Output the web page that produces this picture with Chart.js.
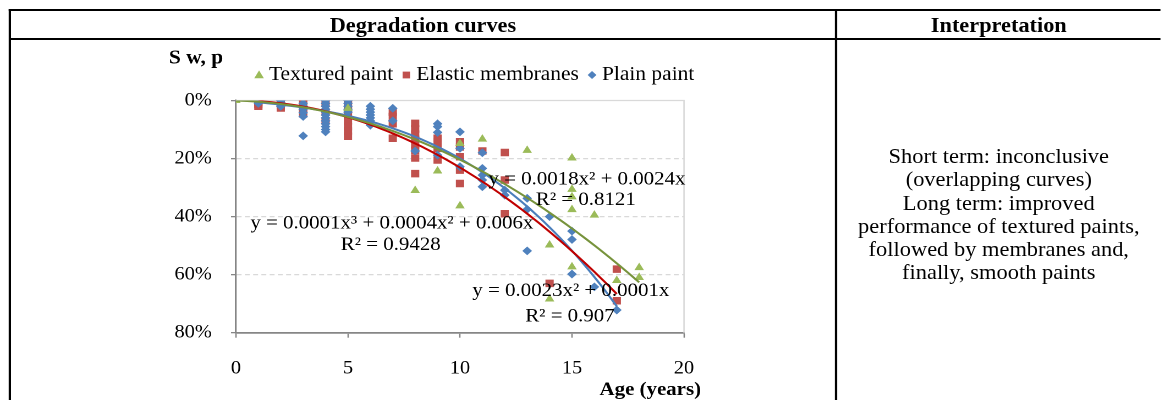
<!DOCTYPE html>
<html>
<head>
<meta charset="utf-8">
<title>Degradation curves</title>
<script src="https://cdn.jsdelivr.net/npm/chart.js@4.4.1/dist/chart.umd.min.js"></script>
<style>
  html, body { margin: 0; padding: 0; background: #fff; }
  body { width: 1161px; height: 400px; overflow: hidden; font-family: "Liberation Serif", "Times New Roman", serif; color: #000; }
  /* the source picture is stretched ~10% horizontally, so the whole page is too */
  #page { position: absolute; left: 0; top: 0; width: 1055.5px; height: 400px; transform: scaleX(1.1); transform-origin: 0 0; }
  #chart { position: absolute; left: 0; top: 0; }
  .rule { position: absolute; background: #000; }
  .head { position: absolute; top: 11.5px; height: 27px; line-height: 27px; font-weight: bold; font-size: 20.3px; text-align: center; white-space: nowrap; }
  #interp { position: absolute; left: 761px; width: 294px; top: 145px; text-align: center; font-size: 20.4px; line-height: 23.3px; white-space: nowrap; }
</style>
</head>
<body>
<div id="page">
  <canvas id="chart" width="759" height="400"></canvas>
  <div class="rule" style="left:8.2px; top:9px; width:1047.3px; height:2px"></div>
  <div class="rule" style="left:8.2px; top:37.5px; width:1047.3px; height:2px"></div>
  <div class="rule" style="left:8.2px; top:9px; width:1.8px; height:391px"></div>
  <div class="rule" style="left:759px; top:9px; width:1.8px; height:391px"></div>
  <div class="head" style="left:10px; width:749px">Degradation curves</div>
  <div class="head" style="left:761px; width:294px">Interpretation</div>
  <div id="interp">Short term: inconclusive<br>(overlapping curves)<br>Long term: improved<br>performance of textured paints,<br>followed by membranes and,<br>finally, smooth paints</div>
</div>
<script>
// series labels
const seriesNames = ["Textured paint", "Elastic membranes", "Plain paint"];

// Textured paint (green triangles): age in years, degradation in %
const texturedAge  = [0, 5, 8, 9, 10, 10, 11, 13, 14, 14, 15, 15, 15, 15, 15, 16, 17, 18, 18];
const texturedLoss = [0, 2.7, 31, 24.3, 14.8, 36.3, 13.3, 17.2, 49.8, 68.4, 19.8, 30.6, 33.2, 37.6, 57.3, 39.5, 62, 57.6, 61];

// Elastic membranes (red squares)
const membraneAge  = [1, 1, 1, 1, 2, 2, 2, 2, 3, 3, 3, 3, 3, 3, 4, 4, 4, 5, 5, 5, 5, 5, 5, 5, 5,
                      7, 7, 7, 7, 8, 8, 8, 8, 8, 8, 8, 8, 9, 9, 9, 9, 10, 10, 10, 10, 10, 11, 12, 12, 12, 14, 17, 17];
const membraneLoss = [0, 0.7, 1.4, 2, 0, 0.8, 1.7, 2.6, 0, 1, 2, 3, 4, 4.6, 1, 4, 7, 0, 1.5, 3, 5, 7, 9, 10.5, 12.3,
                      4, 5.5, 8, 13, 7.9, 9.8, 11.6, 13.4, 15.2, 17.2, 19.8, 25.2, 13, 14.2, 16.5, 20.5, 14.2, 16, 19.4, 24, 28.6, 17.4, 17.9, 27.4, 39, 63, 58.1, 69];

// Plain paint (blue diamonds)
const plainAge  = [1, 1, 1, 2, 2, 2, 2, 3, 3, 3, 3, 3, 3, 4, 4, 4, 4, 4, 4, 4, 4, 4, 4, 4, 4,
                   5, 5, 5, 5, 5, 6, 6, 6, 6, 6, 6, 6, 7, 7, 8, 9, 9, 9, 9, 10, 10, 10,
                   11, 11, 11, 11, 11, 12, 12, 13, 13, 13, 14, 15, 15, 15, 16, 17];
const plainLoss = [0, 0.5, 1, 0, 0.7, 1.5, 2, 1, 2, 3, 4.2, 5.5, 12.2, 0, 1, 2, 3, 4, 5, 6, 7, 8, 9, 10, 10.8,
                   0, 1, 2, 3, 4, 2, 3, 4, 5, 6, 7, 8.5, 2.7, 7, 17.4, 8, 9, 11, 18.8, 10.8, 16.5, 22.8,
                   18, 23.4, 25.7, 27.4, 29.7, 30.9, 32.6, 33.7, 37.5, 51.8, 40, 45, 47.9, 59.8, 64.2, 72.2];

// trendline coefficients as printed on the chart: [x, x², x³]
const texturedTrend = [0.0024, 0.0018, 0];
const membraneTrend = [0.0001, 0.0023, 0];
const plainTrend    = [0.006, 0.0004, 0.0001];
const texturedSpan = [0, 18];
const membraneSpan = [1, 17];
const plainSpan    = [1, 17];

const texturedEq = ["y = 0.0018x\u00B2 + 0.0024x", "R\u00B2 = 0.8121"];
const membraneEq = ["y = 0.0023x\u00B2 + 0.0001x", "R\u00B2 = 0.907"];
const plainEq    = ["y = 0.0001x\u00B3 + 0.0004x\u00B2 + 0.006x", "R\u00B2 = 0.9428"];

// axes
const ageTicks  = [0, 5, 10, 15, 20];
const lossTicks = [0, 20, 40, 60, 80];

const GREEN = "#9BBB59", RED = "#C0504D", BLUE = "#4F81BD";
const FONT = "'Liberation Serif', 'Times New Roman', serif";

const pts = (xs, ys) => xs.map((x, i) => ({ x: x, y: ys[i] }));

// sample the printed polynomial over the range of its series
function trendPoints(c, span) {
  const out = [];
  for (let x = span[0]; x <= span[1] + 1e-9; x += 0.25) {
    out.push({ x: x, y: 100 * (c[0] * x + c[1] * x * x + c[2] * x * x * x) });
  }
  return out;
}

function marker(ctx, style, x, y, r, color) {
  ctx.save();
  ctx.fillStyle = color;
  ctx.beginPath();
  if (style === "triangle") {
    ctx.moveTo(x, y - r);
    ctx.lineTo(x + r * 0.95, y + r * 0.7);
    ctx.lineTo(x - r * 0.95, y + r * 0.7);
  } else if (style === "rect") {
    const s = r * Math.SQRT1_2;
    ctx.rect(x - s, y - s, 2 * s, 2 * s);
  } else {
    ctx.moveTo(x, y - r);
    ctx.lineTo(x + r, y);
    ctx.lineTo(x, y + r);
    ctx.lineTo(x - r, y);
  }
  ctx.closePath();
  ctx.fill();
  ctx.restore();
}

const labelPlugin = {
  id: "labels",
  beforeDatasetsDraw(chart) {
    // light plot-area frame on top and right
    const { ctx, chartArea: a } = chart;
    ctx.save();
    ctx.strokeStyle = "#D9D9D9";
    ctx.lineWidth = 1.3;
    ctx.beginPath();
    ctx.moveTo(a.left, a.top);
    ctx.lineTo(a.right, a.top);
    ctx.lineTo(a.right, a.bottom);
    ctx.stroke();
    ctx.restore();
  },
  afterDraw(chart) {
    const { ctx } = chart;
    const xs = chart.scales.x, ys = chart.scales.y;
    ctx.save();
    ctx.fillStyle = "#000";

    // axis titles
    ctx.font = "bold 19.5px " + FONT;
    ctx.textBaseline = "middle";
    ctx.textAlign = "left";
    ctx.fillText("S w, p", 153.5, 58.5);
    ctx.font = "bold 19px " + FONT;
    ctx.textAlign = "right";
    ctx.fillText("Age (years)", 637.3, 390);

    // legend
    ctx.font = "19.5px " + FONT;
    ctx.textAlign = "left";
    const styles = ["triangle", "rect", "rectRot"];
    const colors = [GREEN, RED, BLUE];
    const radii = [4.6, 4.8, 4];
    let lx = 235.5;
    seriesNames.forEach((name, i) => {
      marker(ctx, styles[i], lx, 75, radii[i], colors[i]);
      ctx.fillStyle = "#000";
      ctx.fillText(name, lx + 9, 75);
      lx += 9 + ctx.measureText(name).width + 12;
    });

    // trendline equations
    ctx.font = "19px " + FONT;
    ctx.textAlign = "center";
    const eqs = [
      [texturedEq, [15.67, 27.2], [15.62, 34.3]],
      [plainEq, [6.96, 42.3], [6.91, 49.8]],
      [membraneEq, [14.95, 65.6], [14.91, 74.5]]
    ];
    eqs.forEach(([txt, p1, p2]) => {
      ctx.fillText(txt[0], xs.getPixelForValue(p1[0]), ys.getPixelForValue(p1[1]));
      ctx.fillText(txt[1], xs.getPixelForValue(p2[0]), ys.getPixelForValue(p2[1]));
    });
    ctx.restore();
  }
};

const trendStyle = (color) => ({
  type: "line", showLine: true, pointRadius: 0, borderColor: color, borderWidth: 2,
  fill: false, tension: 0, order: 0
});

new Chart(document.getElementById("chart"), {
  type: "scatter",
  data: {
    datasets: [
      { label: seriesNames[0], data: pts(texturedAge, texturedLoss), pointStyle: "triangle",
        pointRadius: 5, backgroundColor: GREEN, borderColor: GREEN, borderWidth: 0, order: 1 },
      { label: seriesNames[1], data: pts(membraneAge, membraneLoss), pointStyle: "rect",
        pointRadius: 5.3, backgroundColor: RED, borderColor: RED, borderWidth: 0, order: 3 },
      { label: seriesNames[2], data: pts(plainAge, plainLoss), pointStyle: "rectRot",
        pointRadius: 4.4, backgroundColor: BLUE, borderColor: BLUE, borderWidth: 0, order: 2 },
      Object.assign({ label: "trend textured", data: trendPoints(texturedTrend, texturedSpan) }, trendStyle("#77933C")),
      Object.assign({ label: "trend membranes", data: trendPoints(membraneTrend, membraneSpan) }, trendStyle("#C00000")),
      Object.assign({ label: "trend plain", data: trendPoints(plainTrend, plainSpan) }, trendStyle("#4A7EBB"))
    ]
  },
  options: {
    responsive: false,
    animation: false,
    devicePixelRatio: 2,
    layout: { padding: { left: 0, top: 100.5, right: 137.2, bottom: 17.3 } },
    plugins: { legend: { display: false }, tooltip: { enabled: false } },
    scales: {
      x: {
        type: "linear", min: ageTicks[0], max: ageTicks[ageTicks.length - 1],
        afterFit: (s) => { s.height = 50; },
        afterBuildTicks: (s) => { s.ticks = ageTicks.map(v => ({ value: v })); },
        ticks: { color: "#000", padding: 20, font: { family: FONT, size: 18.5 }, maxRotation: 0 },
        grid: { drawOnChartArea: false, drawTicks: true, tickLength: 5, tickColor: "#868686", tickWidth: 1.3 },
        border: { color: "#868686", width: 1.8 }
      },
      y: {
        type: "linear", reverse: true, min: lossTicks[0], max: lossTicks[lossTicks.length - 1],
        afterFit: (s) => { s.width = 214.5; },
        afterBuildTicks: (s) => { s.ticks = lossTicks.map(v => ({ value: v })); },
        ticks: { color: "#000", padding: 17.5, font: { family: FONT, size: 18.5 }, callback: (v) => v + "%" },
        grid: {
          drawTicks: true, tickLength: 4.5, tickColor: "#868686", tickWidth: 1.3, lineWidth: 1.3,
          color: (c) => (c.tick && c.tick.value > 0 && c.tick.value < 80) ? "#D9D9D9" : "rgba(0,0,0,0)"
        },
        border: { color: "#868686", width: 1.6, dash: [4.5, 3] }
      }
    }
  },
  plugins: [labelPlugin]
});
</script>
</body>
</html>
